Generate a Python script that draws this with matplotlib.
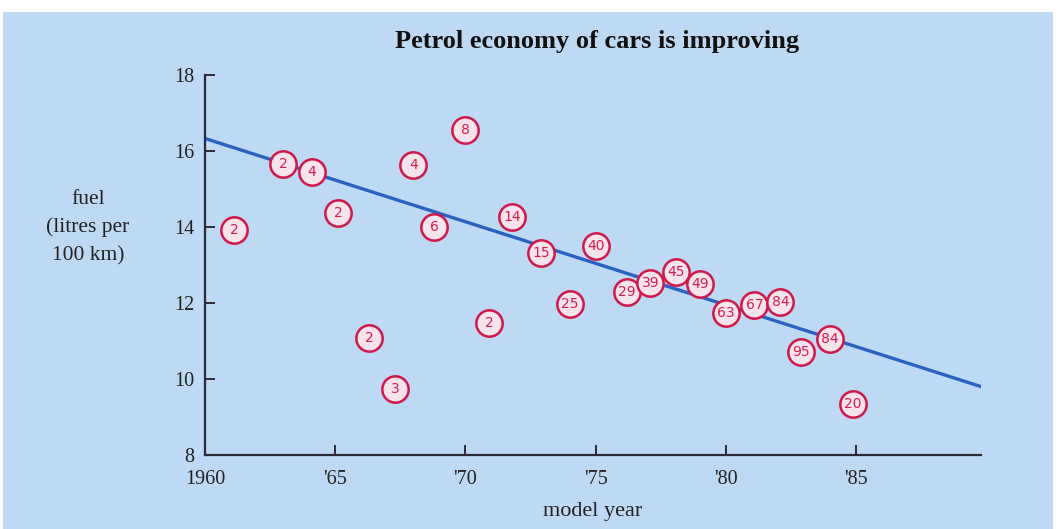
import matplotlib
matplotlib.use("Agg")
import matplotlib.pyplot as plt
from matplotlib.patches import Rectangle

# data
years = [1961.1, 1963.0, 1964.1, 1965.1, 1966.3, 1967.3, 1968.0, 1968.8,
         1970.0, 1970.9, 1971.8, 1972.9, 1974.0, 1975.0, 1976.2, 1977.1,
         1978.1, 1979.0, 1980.0, 1981.1, 1982.1, 1982.9, 1984.0, 1984.9]
fuel = [13.92, 15.66, 15.45, 14.37, 11.08, 9.74, 15.63, 14.0,
        16.55, 11.47, 14.26, 13.32, 11.97, 13.5, 12.29, 12.53,
        12.82, 12.5, 11.74, 11.95, 12.03, 10.71, 11.05, 9.34]
counts = ["2", "2", "4", "2", "2", "3", "4", "6",
          "8", "2", "14", "15", "25", "40", "29", "39",
          "45", "49", "63", "67", "84", "95", "84", "20"]

fit_years = [1960, 1989.9]
fit_fuel = [16.33, 9.78]

xticks = [1960, 1965, 1970, 1975, 1980, 1985]
xtick_labels = ["1960", "'65", "'70", "'75", "'80", "'85"]
yticks = [8, 10, 12, 14, 16, 18]

bg = "#bdd9f3"
red = "#d81e4e"
serif = ["Liberation Serif", "DejaVu Serif"]

fig = plt.figure(figsize=(10.58, 5.29), dpi=100, facecolor="white")
fig.patches.append(Rectangle((0.003, 0), 0.992, 0.978, transform=fig.transFigure,
                             facecolor=bg, edgecolor="none", zorder=-10))

ax = fig.add_axes([0.194, 0.14, 0.733, 0.718])
ax.set_facecolor("none")

ax.plot(fit_years, fit_fuel, color="#2b62c2", lw=2.4, zorder=2)

ax.scatter(years, fuel, s=360, facecolor="#f7e3ec", edgecolor="#d0184a", lw=1.8, zorder=3)
for x, y, c in zip(years, fuel, counts):
    ax.text(x, y, c, ha="center", va="center", fontsize=10, color=red,
            family="DejaVu Sans", zorder=4)

ax.set_xlim(1960, 1989.8)
ax.set_ylim(8, 18)
ax.set_xticks(xticks)
ax.set_xticklabels(xtick_labels)
ax.set_yticks(yticks)

for s in ["top", "right"]:
    ax.spines[s].set_visible(False)
for s in ["left", "bottom"]:
    ax.spines[s].set_color("#2a2a38")
    ax.spines[s].set_linewidth(1.6)

ax.tick_params(direction="in", length=7, width=1.4, color="#2a2a38",
               labelsize=14.5, labelcolor="#222222")
ax.tick_params(axis="x", pad=11)
ax.tick_params(axis="y", pad=8)
for lab in ax.get_xticklabels() + ax.get_yticklabels():
    lab.set_family(serif)

ax.set_xlabel("model year", family=serif, fontsize=16, color="#222222", labelpad=9)
fig.text(0.083, 0.57, "fuel\n(litres per\n100 km)", ha="center", va="center",
         family=serif, fontsize=15.5, color="#222222", linespacing=1.6)
fig.text(0.564, 0.922, "Petrol economy of cars is improving", ha="center", va="center",
         family=serif, fontsize=19, fontweight="bold", color="#111111")

fig.savefig("out.png", dpi=100, facecolor="white")
